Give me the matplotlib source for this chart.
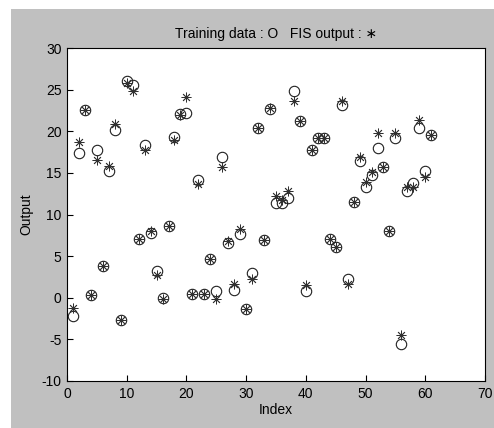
import numpy as np
import matplotlib
matplotlib.use('Agg')
import matplotlib.pyplot as plt
from matplotlib.patches import Rectangle

plt.rcParams['font.family'] = ['Liberation Sans', 'DejaVu Sans']
plt.rcParams['axes.unicode_minus'] = False

# index of each training sample
index = np.arange(1, 62)

# training data (circles)
training = [-2.25, 17.4, 22.5, 0.28, 17.7, 3.85, 15.2, 20.1, -2.65, 26.0,
            25.5, 7.0, 18.3, 7.8, 3.2, 0.0, 8.6, 19.35, 22.1, 22.2,
            0.48, 14.2, 0.48, 4.6, 0.8, 16.95, 6.6, 0.96, 7.7, -1.3,
            3.0, 20.4, 6.9, 22.65, 11.4, 11.4, 12.0, 24.8, 21.2, 0.76,
            17.75, 19.15, 19.15, 7.0, 6.1, 23.1, 2.3, 11.45, 16.45, 13.3,
            14.7, 18.0, 15.7, 8.0, 19.15, -5.6, 12.85, 13.8, 20.35, 15.2,
            19.5]

# FIS output (asterisks)
fis_output = [-1.2, 18.7, 22.5, 0.28, 16.5, 3.85, 15.8, 20.9, -2.65, 25.8,
              24.8, 7.0, 17.7, 8.0, 2.7, -0.1, 8.6, 18.95, 22.0, 24.1,
              0.48, 13.7, 0.48, 4.6, -0.1, 15.65, 6.8, 1.7, 8.3, -1.3,
              2.3, 20.4, 6.9, 22.85, 12.2, 11.8, 12.8, 23.6, 21.2, 1.56,
              17.75, 19.15, 19.15, 7.0, 6.1, 23.6, 1.7, 11.45, 16.85, 13.9,
              15.1, 19.75, 15.7, 8.0, 19.8, -4.45, 13.3, 13.3, 21.3, 14.5,
              19.5]

fig = plt.figure(figsize=(4.94, 4.28), dpi=100, facecolor='white')
# grey figure panel (white strip left and top like the screenshot)
fig.patches.append(Rectangle((11/494, 0), 1 - 11/494, 1 - 9/428,
                             transform=fig.transFigure, facecolor='#c0c0c0',
                             edgecolor='none', zorder=-1))

ax = fig.add_axes([67/494, 1 - 381/428, (485 - 67)/494, (381 - 48)/428])
ax.set_facecolor('white')

ax.plot(index, training, linestyle='none', marker='o', markersize=7.5,
        markerfacecolor='none', markeredgecolor='#202020', markeredgewidth=0.8)
ax.plot(index, fis_output, linestyle='none', marker=(8, 2, 0), markersize=7,
        markeredgecolor='#303030', markeredgewidth=0.6, color='#303030')

ax.set_xlim(0, 70)
ax.set_ylim(-10, 30)
ax.set_xticks(np.arange(0, 71, 10))
ax.set_yticks(np.arange(-10, 31, 5))
ax.tick_params(direction='in', length=4, width=0.8, labelsize=10,
               top=False, right=False, pad=4)
for s in ax.spines.values():
    s.set_linewidth(0.8)

ax.set_xlabel('Index', fontsize=10, labelpad=2)
ax.set_ylabel('Output', fontsize=10, labelpad=6)
ax.set_title('Training data : O   FIS output : \u2217', fontsize=10, pad=7)

plt.savefig('out.png', dpi=100, facecolor=fig.get_facecolor())
